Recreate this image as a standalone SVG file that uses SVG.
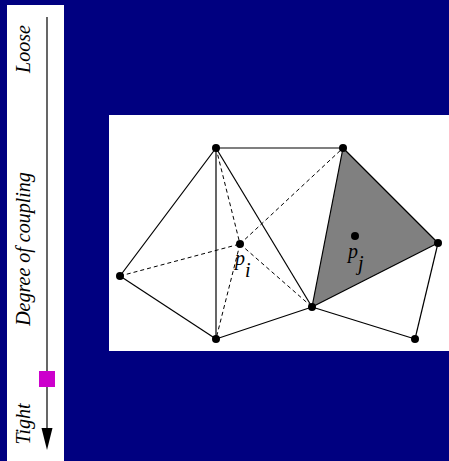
<svg xmlns="http://www.w3.org/2000/svg" width="449" height="461" viewBox="0 0 449 461">
<style>
.lbl{font-family:"Liberation Serif",serif;font-style:italic;font-size:20px;fill:#000}
.e{stroke:#000;stroke-width:1.2;fill:none}
.d{stroke:#000;stroke-width:1;stroke-dasharray:4,3;fill:none}
.n{fill:#000}
</style>
<rect width="449" height="461" fill="#000080"/>
<g id="scale">
<rect x="7" y="5" width="57" height="456" fill="#fff"/>
<line x1="47" y1="17" x2="47" y2="428" stroke="#000" stroke-width="1.2"/>
<path d="M41.5,428 L52.5,428 L47,450 Z" fill="#000"/>
<rect x="39" y="371" width="16" height="16" fill="#cc00cc"/>
<text class="lbl" transform="translate(30,49) rotate(-90)" text-anchor="middle">Loose</text>
<text class="lbl" transform="translate(30,249) rotate(-90)" text-anchor="middle">Degree of coupling</text>
<text class="lbl" transform="translate(30,424) rotate(-90)" text-anchor="middle">Tight</text>
</g>
<rect x="109" y="115" width="340" height="236" fill="#fff"/>
<polygon points="343,148 438,243 312,307" fill="#808080"/>
<g id="connectors">
<line class="e" x1="120" y1="276" x2="216" y2="148"/>
<line class="e" x1="216" y1="148" x2="343" y2="148"/>
<line class="e" x1="216" y1="148" x2="216" y2="339"/>
<line class="e" x1="216" y1="148" x2="312" y2="307"/>
<line class="e" x1="120" y1="276" x2="216" y2="339"/>
<line class="e" x1="216" y1="339" x2="312" y2="307"/>
<line class="e" x1="312" y1="307" x2="415" y2="339"/>
<line class="e" x1="415" y1="339" x2="438" y2="243"/>
<line class="e" x1="312" y1="307" x2="343" y2="148" stroke-width="1.6"/>
<line class="e" x1="312" y1="307" x2="438" y2="243" stroke-width="1.6"/>
<line class="e" x1="343" y1="148" x2="438" y2="243" stroke-width="1.6"/>
<line class="d" x1="120" y1="276" x2="240" y2="244"/>
<line class="d" x1="240" y1="244" x2="343" y2="148"/>
<line class="d" x1="216" y1="148" x2="240" y2="244"/>
<line class="d" x1="240" y1="244" x2="216" y2="339"/>
<line class="d" x1="240" y1="244" x2="312" y2="307"/>
</g>
<g id="n1"><circle class="n" cx="216" cy="148" r="4"/></g>
<g id="n2"><circle class="n" cx="343" cy="148" r="4"/></g>
<g id="n3"><circle class="n" cx="120" cy="276" r="4"/></g>
<g id="pi"><circle class="n" cx="240" cy="244" r="4"/><text class="lbl" x="235" y="265" font-size="19">p</text><text class="lbl" x="245" y="277" font-size="14">i</text></g>
<g id="pj"><circle class="n" cx="355" cy="236" r="4"/><text class="lbl" x="348" y="258" font-size="19">p</text><text class="lbl" x="358" y="270" font-size="14">j</text></g>
<g id="n4"><circle class="n" cx="438" cy="243" r="4"/></g>
<g id="n5"><circle class="n" cx="312" cy="307" r="4"/></g>
<g id="n6"><circle class="n" cx="216" cy="339" r="4"/></g>
<g id="n7"><circle class="n" cx="415" cy="339" r="4"/></g>
</svg>
